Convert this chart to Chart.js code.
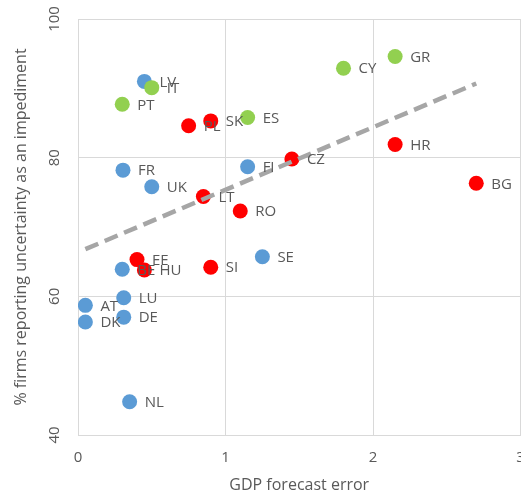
<!DOCTYPE html>
<html>
<head>
<meta charset="utf-8">
<script src="https://cdn.jsdelivr.net/npm/chart.js@4"></script>
<style>
  html, body { margin: 0; padding: 0; background: #fff; overflow: hidden; }
  #clip { width: 521px; height: 498px; overflow: hidden; position: relative; }
  #wrap { width: 528px; height: 498px; position: absolute; left: 0; top: 0; }
</style>
</head>
<body>
<div id="clip"><div id="wrap"><canvas id="scatter"></canvas></div></div>
<script>
// country codes and values
var blueNames = ['LV', 'FR', 'UK', 'FI', 'SE', 'BE', 'LU', 'AT', 'DE', 'DK', 'NL'];
var blueX = [0.45, 0.305, 0.50, 1.15, 1.25, 0.30, 0.31, 0.05, 0.31, 0.05, 0.35];
var blueY = [91.0, 78.2, 75.8, 78.7, 65.7, 63.9, 59.8, 58.7, 57.0, 56.3, 44.8];

var greenNames = ['IT', 'PT', 'ES', 'CY', 'GR'];
var greenX = [0.50, 0.30, 1.15, 1.80, 2.15];
var greenY = [90.1, 87.7, 85.8, 92.9, 94.6];

var redNames = ['PL', 'SK', 'CZ', 'LT', 'RO', 'EE', 'HU', 'SI', 'HR', 'BG'];
var redX = [0.75, 0.90, 1.45, 0.85, 1.10, 0.40, 0.45, 0.90, 2.15, 2.70];
var redY = [84.6, 85.3, 79.8, 74.4, 72.3, 65.3, 63.8, 64.2, 81.9, 76.3];

var trendX = [0.05, 2.70];
var trendY = [66.8, 90.7];

var xTicks = [0, 1, 2, 3];
var yTicks = [40, 60, 80, 100];

var txtColor = '#595959';
var gridColor = '#d9d9d9';
var fontFam = '"Open Sans", sans-serif';

function pts(xs, ys) {
    return xs.map(function (x, i) { return { x: x, y: ys[i] }; });
}

function dots(names, xs, ys, color) {
    return {
        type: 'scatter',
        names: names,
        data: pts(xs, ys),
        backgroundColor: color,
        borderColor: color,
        borderWidth: 0,
        pointRadius: 7.5,
        pointHoverRadius: 7.5
    };
}

// writes the country code to the right of each dot
var pointLabels = {
    id: 'pointLabels',
    afterDatasetsDraw: function (chart) {
        var ctx = chart.ctx;
        ctx.save();
        ctx.font = '15px ' + fontFam;
        ctx.fillStyle = txtColor;
        ctx.textAlign = 'left';
        ctx.textBaseline = 'middle';
        chart.data.datasets.forEach(function (ds, i) {
            if (!ds.names) return;
            chart.getDatasetMeta(i).data.forEach(function (el, j) {
                ctx.fillText(ds.names[j], el.x + 15, el.y + 1);
            });
        });
        ctx.restore();
    }
};

// solid frame line along the top of the plot
var topFrame = {
    id: 'topFrame',
    beforeDatasetsDraw: function (chart) {
        var a = chart.chartArea, ctx = chart.ctx;
        ctx.save();
        ctx.strokeStyle = gridColor;
        ctx.lineWidth = 1;
        ctx.beginPath();
        ctx.moveTo(a.left, a.top + 0.5);
        ctx.lineTo(a.right, a.top + 0.5);
        ctx.stroke();
        ctx.restore();
    }
};

var ctx1 = document.getElementById('scatter').getContext('2d');

var scatterChart = new Chart(ctx1, {
    type: 'scatter',
    data: {
        datasets: [
            {
                type: 'line',
                data: pts(trendX, trendY),
                borderColor: '#a6a6a6',
                borderWidth: 4.5,
                borderDash: [14, 7],
                pointRadius: 0,
                fill: false
            },
            dots(redNames, redX, redY, '#ff0000'),
            dots(greenNames, greenX, greenY, '#92d050'),
            dots(blueNames, blueX, blueY, '#5b9bd5')
        ]
    },
    options: {
        responsive: true,
        maintainAspectRatio: false,
        animation: false,
        events: [],
        layout: { padding: { top: 19, right: 1, left: 0, bottom: 0 } },
        plugins: {
            legend: { display: false },
            tooltip: { enabled: false }
        },
        scales: {
            x: {
                type: 'linear',
                min: 0,
                max: 3,
                afterBuildTicks: function (s) {
                    s.ticks = xTicks.map(function (v) { return { value: v }; });
                },
                afterFit: function (s) {
                    s.height = 63;
                    s.paddingLeft = 0;
                    s.paddingRight = 0;
                },
                grid: {
                    color: gridColor,
                    borderDash: [4, 3],
                    drawTicks: false
                },
                border: { display: true, color: gridColor, width: 1 },
                ticks: {
                    color: txtColor,
                    font: { family: fontFam, size: 15 },
                    padding: 14,
                    maxRotation: 0
                },
                title: {
                    display: true,
                    text: 'GDP forecast error',
                    color: txtColor,
                    font: { family: fontFam, size: 16 },
                    padding: { top: 0, bottom: 3 }
                }
            },
            y: {
                type: 'linear',
                min: 40,
                max: 100,
                afterBuildTicks: function (s) {
                    s.ticks = yTicks.map(function (v) { return { value: v }; });
                },
                afterFit: function (s) {
                    s.width = 78;
                    s.paddingTop = 0;
                    s.paddingBottom = 0;
                },
                grid: {
                    color: gridColor,
                    borderDash: [4, 3],
                    drawTicks: false
                },
                border: { display: true, color: gridColor, width: 1 },
                ticks: {
                    color: txtColor,
                    font: { family: fontFam, size: 15 },
                    padding: 10,
                    minRotation: 90,
                    maxRotation: 90,
                    crossAlign: 'center'
                },
                title: {
                    display: true,
                    text: '% firms reporting uncertainty as an impediment',
                    color: txtColor,
                    font: { family: fontFam, size: 16 },
                    padding: { top: 12, bottom: 0 }
                }
            }
        }
    },
    plugins: [topFrame, pointLabels]
});
</script>
</body>
</html>
